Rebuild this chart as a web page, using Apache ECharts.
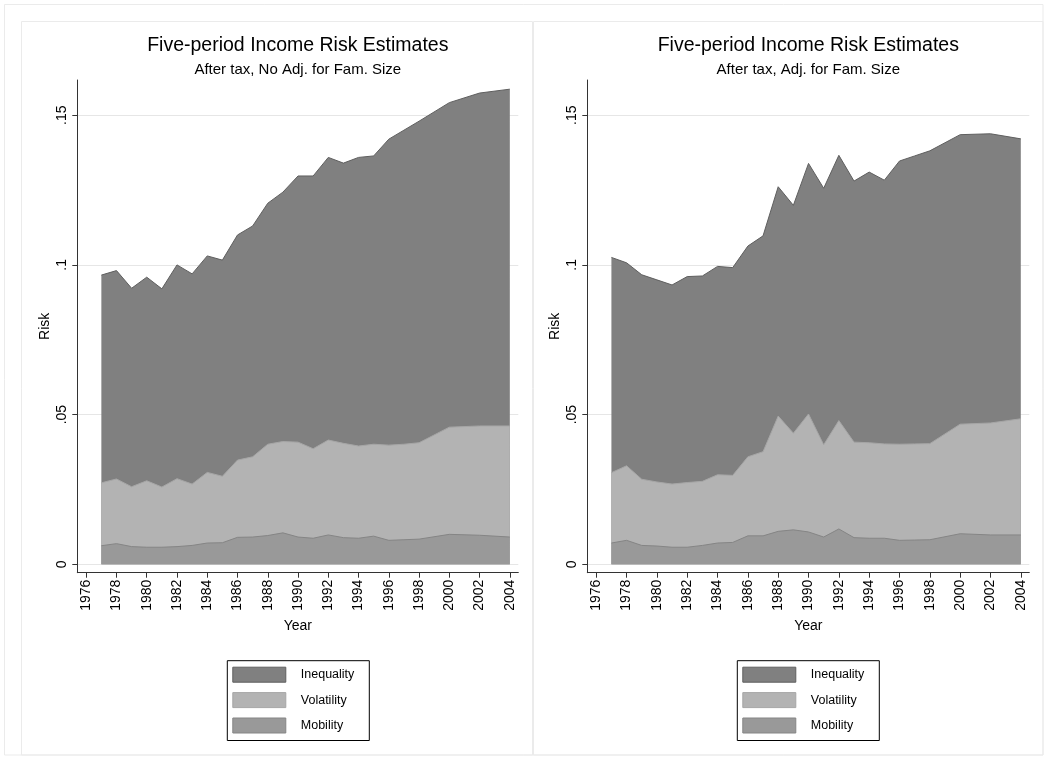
<!DOCTYPE html>
<html>
<head>
<meta charset="utf-8">
<script src="https://cdn.jsdelivr.net/npm/echarts@6/dist/echarts.min.js"></script>
<style>
html,body{margin:0;padding:0;background:#fff;}
#chart{width:1047px;height:765px;}
</style>
</head>
<body>
<div id="chart"></div>
<script>
// Years with estimates
const years = [1977,1978,1979,1980,1981,1982,1983,1984,1985,1986,1987,1988,1989,1990,1991,1992,1993,1994,1995,1996,1997,1998,2000,2002,2004];

// Left panel: After tax, No Adj. for Fam. Size (upper edge of each band)
const inequalityTopLeft = [0.0966,0.0981,0.0922,0.0959,0.0920,0.1000,0.0970,0.1030,0.1016,0.1100,0.1130,0.1206,0.1243,0.1297,0.1297,0.1359,0.1340,0.1359,0.1364,0.1420,0.1450,0.1480,0.1542,0.1574,0.1587];
const volatilityTopLeft = [0.0272,0.0285,0.0259,0.0279,0.0258,0.0286,0.0268,0.0307,0.0294,0.0348,0.0359,0.0401,0.0410,0.0408,0.0386,0.0415,0.0404,0.0395,0.0401,0.0398,0.0401,0.0406,0.0458,0.0462,0.0462];
const mobilityTopLeft = [0.0062,0.0069,0.0059,0.0057,0.0057,0.0059,0.0063,0.0071,0.0072,0.0090,0.0091,0.0096,0.0105,0.0091,0.0087,0.0098,0.0089,0.0087,0.0094,0.0080,0.0082,0.0084,0.0100,0.0097,0.0091];

// Right panel: After tax, Adj. for Fam. Size (upper edge of each band)
const inequalityTopRight = [0.1025,0.1007,0.0967,0.0950,0.0933,0.0961,0.0963,0.0995,0.0991,0.1063,0.1097,0.1261,0.1199,0.1339,0.1256,0.1366,0.1280,0.1310,0.1283,0.1347,0.1364,0.1381,0.1435,0.1438,0.1421];
const volatilityTopRight = [0.0306,0.0329,0.0284,0.0275,0.0268,0.0273,0.0277,0.0299,0.0297,0.0359,0.0376,0.0495,0.0438,0.0502,0.0399,0.0480,0.0408,0.0406,0.0402,0.0401,0.0402,0.0403,0.0468,0.0472,0.0486];
const mobilityTopRight = [0.0071,0.0080,0.0063,0.0061,0.0057,0.0057,0.0063,0.0071,0.0073,0.0095,0.0095,0.0110,0.0115,0.0108,0.0091,0.0118,0.0089,0.0087,0.0087,0.0080,0.0081,0.0082,0.0102,0.0098,0.0098];

// Ticks
const xTickValues = [1976,1978,1980,1982,1984,1986,1988,1990,1992,1994,1996,1998,2000,2002,2004];
const yTickValues = [0, 0.05, 0.1, 0.15];
const yTickLabels = ['0', '.05', '.1', '.15'];

const titleText = 'Five-period Income Risk Estimates';
const subtitleLeft = 'After tax, No Adj. for Fam. Size';
const subtitleRight = 'After tax, Adj. for Fam. Size';
const seriesNames = ['Inequality', 'Volatility', 'Mobility'];

const FONT = '"Liberation Sans", Arial, Helvetica, sans-serif';
const fills = {Inequality:'#808080', Volatility:'#b3b3b3', Mobility:'#999999'};
const edges = {Inequality:'#5f5f5f', Volatility:'#a6a6a6', Mobility:'#858585'};

function pairs(vals){ return years.map((y,i)=>[y, vals[i]]); }

const grids = [
  {left: 77.3, top: 80, width: 441, height: 492.7},
  {left: 587.3, top: 80, width: 442, height: 492.7}
];

function xAxisFor(idx){
  return {
    type:'value', gridIndex: idx, min: 1975.41, max: 2004.56,
    name:'Year', nameLocation:'middle', nameGap: 45,
    nameTextStyle:{fontFamily:FONT, fontSize:14, color:'#000'},
    axisLine:{show:true, onZero:false, lineStyle:{color:'#333', width:1}},
    axisTick:{show:true, length:5, inside:false, customValues: xTickValues, lineStyle:{color:'#333'}},
    axisLabel:{show:true, rotate:90, margin:7, customValues: xTickValues, fontFamily:FONT, fontSize:14, color:'#000', formatter: v => String(v)},
    splitLine:{show:false}
  };
}
function yAxisFor(idx){
  return {
    type:'value', gridIndex: idx, min: -0.00281, max: 0.16176,
    name:'Risk', nameLocation:'middle', nameGap: 25.5, nameRotate: 90,
    nameTextStyle:{fontFamily:FONT, fontSize:14, color:'#000'},
    axisLine:{show:true, onZero:false, lineStyle:{color:'#333', width:1}},
    axisTick:{show:true, length:5, inside:false, customValues: yTickValues, lineStyle:{color:'#333'}},
    axisLabel:{show:true, rotate:90, margin:8, customValues: yTickValues, fontFamily:FONT, fontSize:14, color:'#000',
      formatter: v => { const i = yTickValues.findIndex(t => Math.abs(t - v) < 1e-9); return i >= 0 ? yTickLabels[i] : ''; }},
    splitLine:{show:true, lineStyle:{color:'#e6e6e6', width:1}}
  };
}

function areaSeries(name, vals, idx){
  return {
    name, type:'line', xAxisIndex: idx, yAxisIndex: idx,
    data: pairs(vals), showSymbol:false, symbol:'none',
    color: fills[name],
    lineStyle:{color: edges[name], width:1},
    areaStyle:{color: fills[name], opacity:1, origin: 0},
    emphasis:{disabled:true}
  };
}

function legendFor(left){
  return {
    orient:'vertical', left: left, top: 660.7,
    backgroundColor:'#fff', borderColor:'#000', borderWidth:1,
    padding:[6, 15, 7, 5], itemGap: 9.4, itemWidth: 53, itemHeight: 15,
    icon:'rect', selectedMode:false,
    textStyle:{fontFamily:FONT, fontSize:12.5, color:'#000', padding:[0,0,0,10]},
    data: seriesNames.map(n => ({name:n, itemStyle:{color: fills[n], borderColor: edges[n], borderWidth:1}}))
  };
}

function textEl(x, y, txt, size){
  return {type:'text', x:x, y:y, silent:true,
    style:{text:txt, fontFamily:FONT, fontSize:size, fill:'#000', align:'center', verticalAlign:'middle'}};
}

const option = {
  animation:false,
  backgroundColor:'#fff',
  grid: grids,
  xAxis: [xAxisFor(0), xAxisFor(1)],
  yAxis: [yAxisFor(0), yAxisFor(1)],
  legend: [legendFor(227.3), legendFor(737.3)],
  series: [
    areaSeries('Inequality', inequalityTopLeft, 0),
    areaSeries('Volatility', volatilityTopLeft, 0),
    areaSeries('Mobility', mobilityTopLeft, 0),
    areaSeries('Inequality', inequalityTopRight, 1),
    areaSeries('Volatility', volatilityTopRight, 1),
    areaSeries('Mobility', mobilityTopRight, 1)
  ],
  graphic: [
    {type:'rect', silent:true, z:-10, shape:{x:4.5, y:4.5, width:1038.5, height:750.5}, style:{fill:null, stroke:'#ebebeb', lineWidth:1}},
    {type:'rect', silent:true, z:-10, shape:{x:21.5, y:21.5, width:511, height:733.5}, style:{fill:null, stroke:'#ebebeb', lineWidth:1}},
    {type:'rect', silent:true, z:-10, shape:{x:533.5, y:21.5, width:509.5, height:733.5}, style:{fill:null, stroke:'#ebebeb', lineWidth:1}},
    textEl(297.8, 46, titleText, 19.5),
    textEl(297.8, 69.5, subtitleLeft, 15),
    textEl(808.3, 46, titleText, 19.5),
    textEl(808.3, 69.5, subtitleRight, 15)
  ]
};

const chart = echarts.init(document.getElementById('chart'), null, {renderer:'canvas'});
chart.setOption(option);
</script>
</body>
</html>
